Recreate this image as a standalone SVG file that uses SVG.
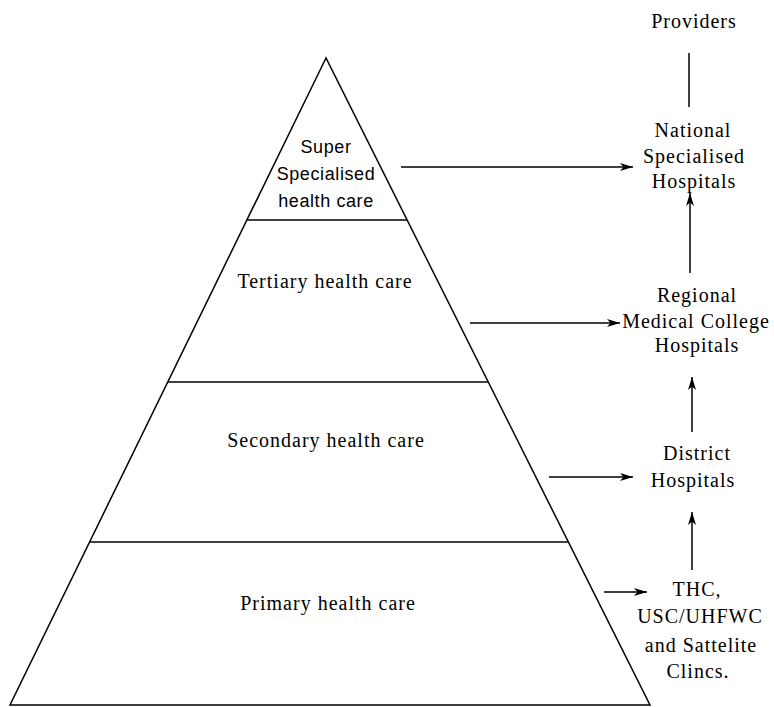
<svg xmlns="http://www.w3.org/2000/svg" width="774" height="707" viewBox="0 0 774 707">
<style>
.ln{stroke:#000;stroke-width:1.5;fill:none}
.t{font-family:"Liberation Serif","Times New Roman",serif;font-size:20px;fill:#000;text-anchor:middle;letter-spacing:1px}
.s{font-family:"Liberation Sans",Arial,sans-serif;font-size:18px;fill:#000;text-anchor:middle;letter-spacing:0.6px}
</style>
<defs>
<marker id="ah" markerWidth="14" markerHeight="10" refX="13" refY="5" orient="auto" markerUnits="userSpaceOnUse">
<path d="M0,1 L13,5 L0,9 L3.5,5 Z" fill="#000"/>
</marker>
</defs>
<rect width="774" height="707" fill="#fff"/>
<g id="pyramid">
<polygon class="ln" points="326,58 10,705 650,705"/>
<line class="ln" x1="247" y1="220" x2="407" y2="220"/>
<line class="ln" x1="168" y1="382" x2="488" y2="382"/>
<line class="ln" x1="90" y1="542" x2="568" y2="542"/>
</g>
<g id="level-super">
<text class="s" x="326" y="153">Super</text>
<text class="s" x="326" y="180">Specialised</text>
<text class="s" x="326" y="207">health care</text>
</g>
<g id="level-tertiary"><text class="t" x="325" y="288">Tertiary health care</text></g>
<g id="level-secondary"><text class="t" x="326" y="447">Secondary health care</text></g>
<g id="level-primary"><text class="t" x="328" y="610">Primary health care</text></g>
<g id="providers"><text class="t" x="694" y="28">Providers</text></g>
<g id="national">
<text class="t" x="693" y="137">National</text>
<text class="t" x="694" y="163">Specialised</text>
<text class="t" x="694" y="188">Hospitals</text>
</g>
<g id="regional">
<text class="t" x="697" y="302">Regional</text>
<text class="t" x="696" y="328">Medical College</text>
<text class="t" x="697" y="352">Hospitals</text>
</g>
<g id="district">
<text class="t" x="697" y="460">District</text>
<text class="t" x="693" y="487">Hospitals</text>
</g>
<g id="thc">
<text class="t" x="697" y="596">THC,</text>
<text class="t" x="700" y="623">USC/UHFWC</text>
<text class="t" x="701" y="652">and Sattelite</text>
<text class="t" x="698" y="678">Clincs.</text>
</g>
<g id="connectors">
<line class="ln" x1="689" y1="53" x2="689" y2="107"/>
<line class="ln" x1="401" y1="167" x2="633" y2="167" marker-end="url(#ah)"/>
<line class="ln" x1="470" y1="323" x2="620" y2="323" marker-end="url(#ah)"/>
<line class="ln" x1="549" y1="477" x2="633" y2="477" marker-end="url(#ah)"/>
<line class="ln" x1="604" y1="592" x2="647" y2="592" marker-end="url(#ah)"/>
<line class="ln" x1="690" y1="273" x2="690" y2="193" marker-end="url(#ah)"/>
<line class="ln" x1="692" y1="432" x2="692" y2="377" marker-end="url(#ah)"/>
<line class="ln" x1="692" y1="570" x2="692" y2="512" marker-end="url(#ah)"/>
</g>
</svg>
